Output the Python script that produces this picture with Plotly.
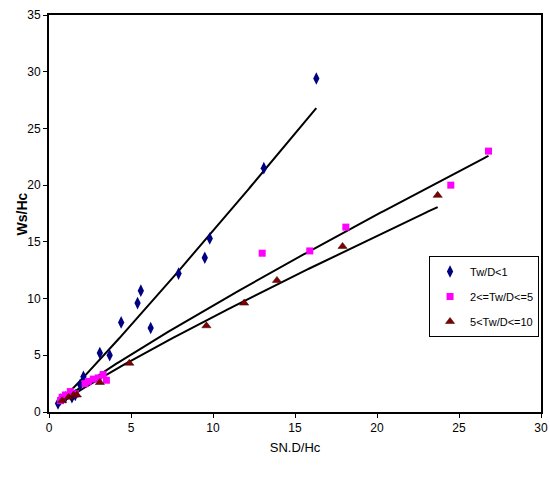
import numpy as np
import plotly.graph_objects as go

# Series data
blue_x = [0.55, 0.7, 1.0, 1.4, 1.6, 1.9, 2.1, 3.1, 3.7, 4.4, 5.4, 5.6, 6.2, 7.9, 9.5, 9.8, 13.1, 16.3]
blue_y = [0.75, 1.1, 1.3, 1.3, 1.5, 2.4, 3.1, 5.2, 5.0, 7.9, 9.6, 10.7, 7.4, 12.2, 13.6, 15.3, 21.5, 29.4]

pink_x = [0.7, 0.8, 1.0, 1.3, 1.6, 2.2, 2.4, 2.7, 3.0, 3.3, 3.5, 13.0, 15.9, 18.1, 24.5, 26.8]
pink_y = [1.0, 1.3, 1.5, 1.8, 1.6, 2.5, 2.7, 2.9, 3.0, 3.3, 2.8, 14.0, 14.2, 16.3, 20.0, 23.0]

red_x = [0.8, 1.2, 1.5, 1.7, 3.1, 4.9, 9.6, 11.9, 13.9, 17.9, 23.7]
red_y = [1.0, 1.3, 1.5, 1.5, 2.6, 4.3, 7.6, 9.6, 11.6, 14.6, 19.1]

names = ["Tw/D<1", "2<=Tw/D<=5", "5<Tw/D<=10"]
# Power trend lines y = a * x^b
trend_a = [1.39, 1.21, 1.08]
trend_b = [1.06, 0.89, 0.89]

x_ticks = [0, 5, 10, 15, 20, 25, 30]
y_ticks = [0, 5, 10, 15, 20, 25, 30, 35]

FONT = "Liberation Sans, Arial, sans-serif"

fig = go.Figure()

series = [
    (blue_x, blue_y, dict(symbol="diamond-tall", size=9, color="#000080")),
    (pink_x, pink_y, dict(symbol="square", size=7, color="#FF00FF")),
    (red_x, red_y, dict(symbol="triangle-up", size=8, color="#800000",
                        line=dict(color="#300000", width=0.5))),
]

for (xs, ys, mk), a, b in zip(series, trend_a, trend_b):
    tx = np.linspace(min(xs), max(xs), 200)
    fig.add_trace(go.Scatter(x=tx, y=a * tx ** b, mode="lines", showlegend=False,
                             line=dict(color="black", width=2), hoverinfo="skip"))

for i, ((xs, ys, mk), nm) in enumerate(zip(series, names)):
    fig.add_trace(go.Scatter(x=xs, y=ys, mode="markers", name=nm, marker=mk,
                             legendgroup=f"g{i}"))

fig.add_annotation(text="<b>Ws/Hc</b>", xref="paper", yref="paper",
                   x=-0.055, y=0.5, textangle=-90, showarrow=False,
                   font=dict(family=FONT, size=14), xanchor="center", yanchor="middle")

fig.update_layout(
    width=550, height=480,
    margin=dict(l=49, r=9, t=15, b=68, autoexpand=False),
    paper_bgcolor="white", plot_bgcolor="white",
    font=dict(family=FONT, size=12, color="black"),
    legend=dict(x=0.996, y=0.393, xanchor="right", yanchor="top",
                bordercolor="black", borderwidth=1, bgcolor="white",
                font=dict(family=FONT, size=11),
                itemwidth=30, tracegroupgap=6),
    xaxis=dict(range=[0, 30], tickvals=x_ticks, showgrid=False, zeroline=False,
               showline=True, linecolor="black", linewidth=2, mirror=True,
               ticks="outside", ticklen=4, tickcolor="black",
               ticklabeloverflow="allow",
               tickfont=dict(family=FONT, size=12),
               title=dict(text="SN.D/Hc", font=dict(family=FONT, size=13), standoff=8)),
    yaxis=dict(range=[0, 35], tickvals=y_ticks, showgrid=False, zeroline=False,
               showline=True, linecolor="black", linewidth=2, mirror=True,
               ticks="outside", ticklen=4, tickcolor="black",
               ticklabeloverflow="allow",
               tickfont=dict(family=FONT, size=12)),
)

fig.write_html("out.html")
